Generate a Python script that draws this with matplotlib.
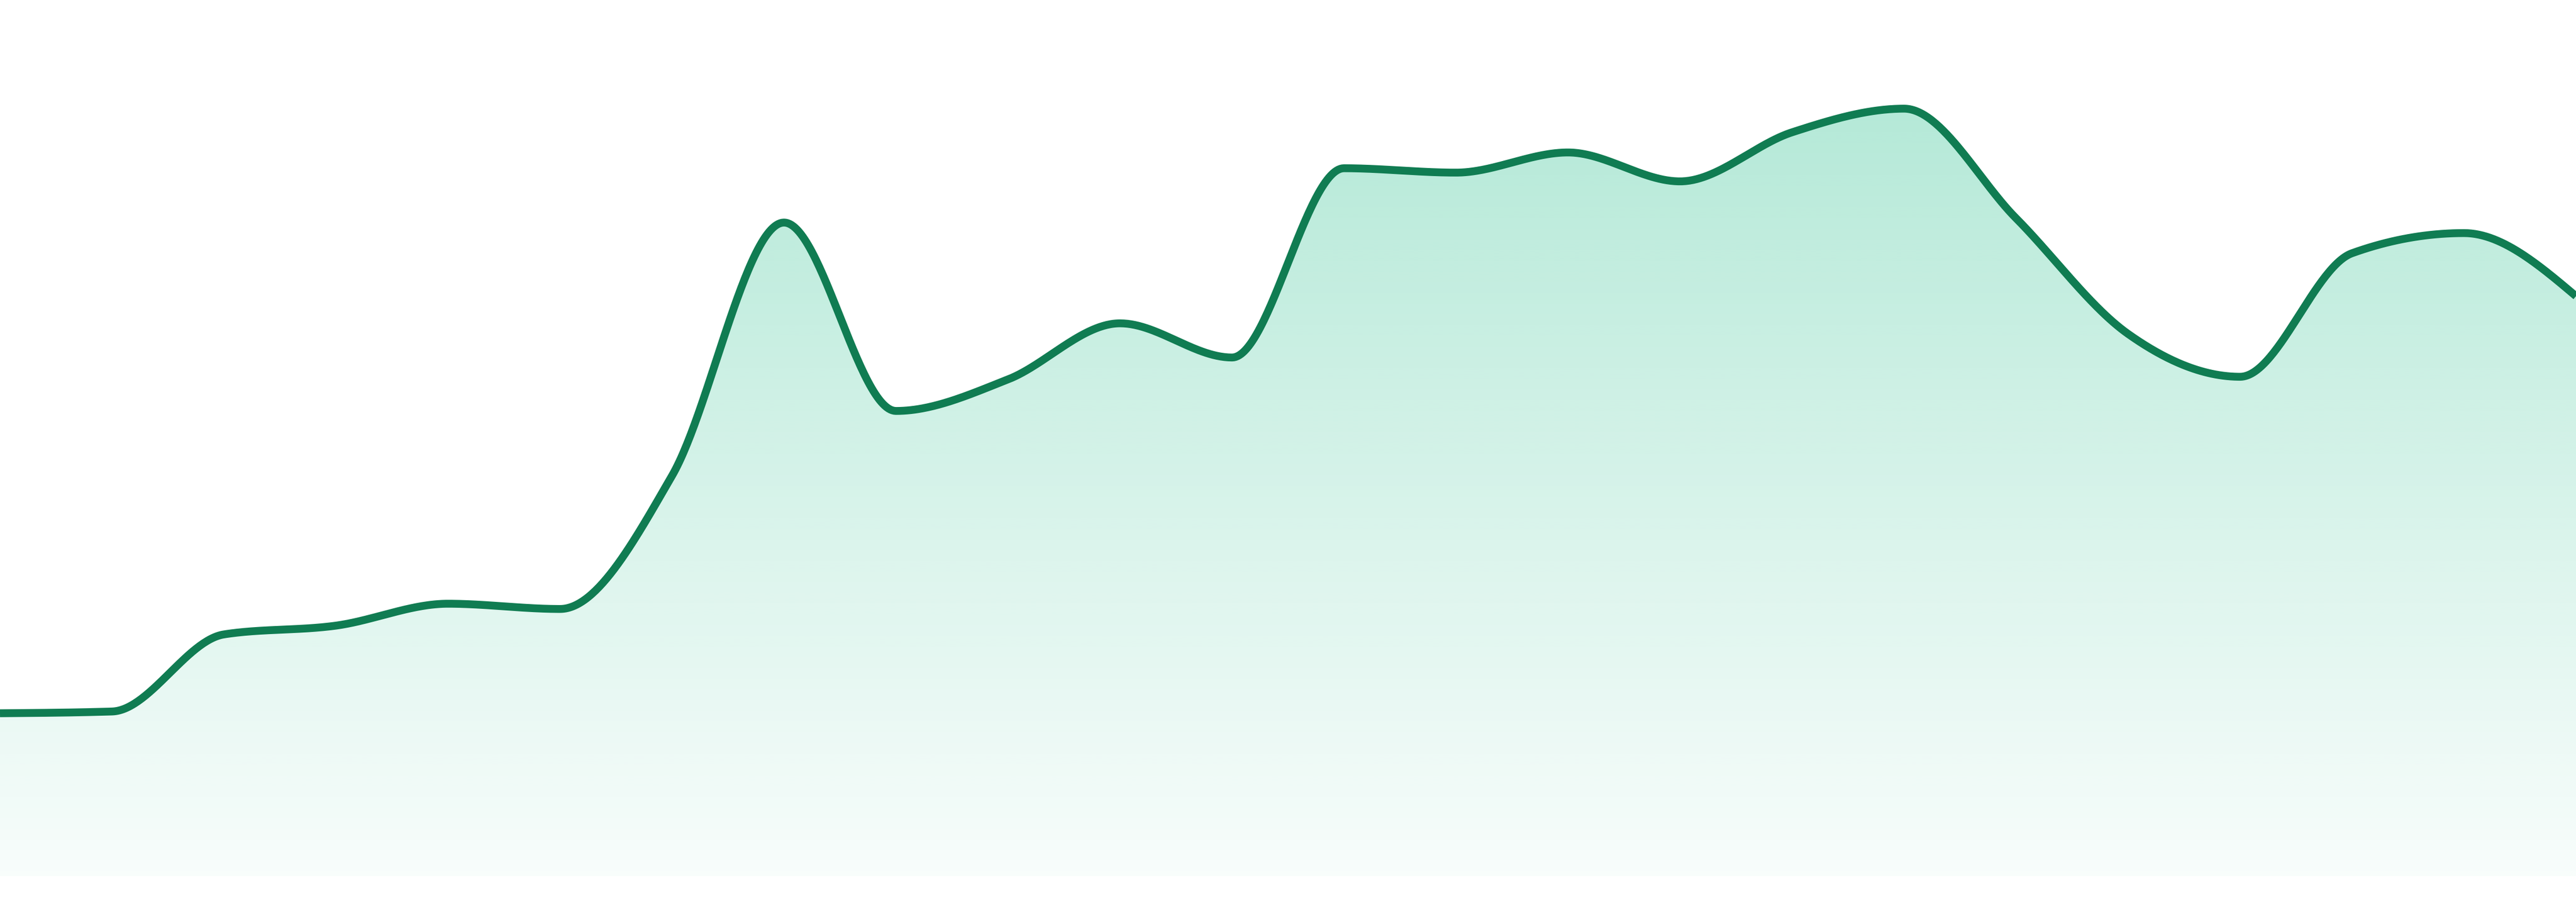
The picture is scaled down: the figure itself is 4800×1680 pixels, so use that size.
import numpy as np
import matplotlib
matplotlib.use("Agg")
import matplotlib.pyplot as plt
from matplotlib.path import Path
from matplotlib.patches import PathPatch

# data (arbitrary units)
x_idx = list(range(24))
values = [18.6, 18.8, 27.6, 28.6, 31.1, 30.5, 45.7, 74.6, 53.1, 56.7, 63.1, 59.2,
          80.8, 80.3, 82.6, 79.3, 84.9, 87.6, 75.1, 61.9, 57.0, 71.1, 73.4, 66.2]

line_color = "#107c52"
fill_color = "#10b981"


def monotone_x(xs, ys, n=60):
    xs = np.asarray(xs, float)
    ys = np.asarray(ys, float)
    m = len(xs)
    h = np.diff(xs)
    s = np.diff(ys) / h
    t = np.zeros(m)
    for i in range(1, m - 1):
        s0, s1 = s[i - 1], s[i]
        h0, h1 = h[i - 1], h[i]
        p = (s0 * h1 + s1 * h0) / (h0 + h1)
        t[i] = (np.sign(s0) + np.sign(s1)) * min(abs(s0), abs(s1), 0.5 * abs(p))
    t[0] = (3 * s[0] - t[1]) / 2
    t[-1] = (3 * s[-1] - t[-2]) / 2
    px, py = [], []
    u = np.linspace(0, 1, n, endpoint=False)
    for i in range(m - 1):
        x0, x1 = xs[i], xs[i + 1]
        y0, y1 = ys[i], ys[i + 1]
        dx = (x1 - x0) / 3
        cx = [x0, x0 + dx, x1 - dx, x1]
        cy = [y0, y0 + dx * t[i], y1 - dx * t[i + 1], y1]
        b = [(1 - u) ** 3, 3 * u * (1 - u) ** 2, 3 * u ** 2 * (1 - u), u ** 3]
        px.extend(sum(bb * c for bb, c in zip(b, cx)))
        py.extend(sum(bb * c for bb, c in zip(b, cy)))
    px.append(xs[-1])
    py.append(ys[-1])
    return np.array(px), np.array(py)


fig = plt.figure(figsize=(16, 5.6), dpi=300)
ax = fig.add_axes([0, 48 / 1680, 1, 1632 / 1680])
ax.set_xlim(0, len(values) - 1)
ax.set_ylim(0, 100)
ax.axis("off")

cx, cy = monotone_x(x_idx, values)

# gradient fill clipped to the area under the curve
verts = np.column_stack([np.concatenate([cx, [cx[-1], cx[0]]]),
                         np.concatenate([cy, [0, 0]])])
path = Path(verts)
patch = PathPatch(path, facecolor="none", edgecolor="none")
ax.add_patch(patch)

rgb = np.array(matplotlib.colors.to_rgb(fill_color))
ny = 512
alpha = np.linspace(0.03, 0.35, ny)[:, None]
img = np.zeros((ny, 2, 4))
img[..., :3] = rgb
img[..., 3] = alpha
im = ax.imshow(img, extent=[0, len(values) - 1, 0, 100], origin="lower",
               aspect="auto", interpolation="bilinear", zorder=1)
im.set_clip_path(patch)

ax.plot(cx, cy, color=line_color, lw=3.5, solid_capstyle="butt", zorder=3)

fig.savefig("out.png", dpi=300, facecolor="white")
